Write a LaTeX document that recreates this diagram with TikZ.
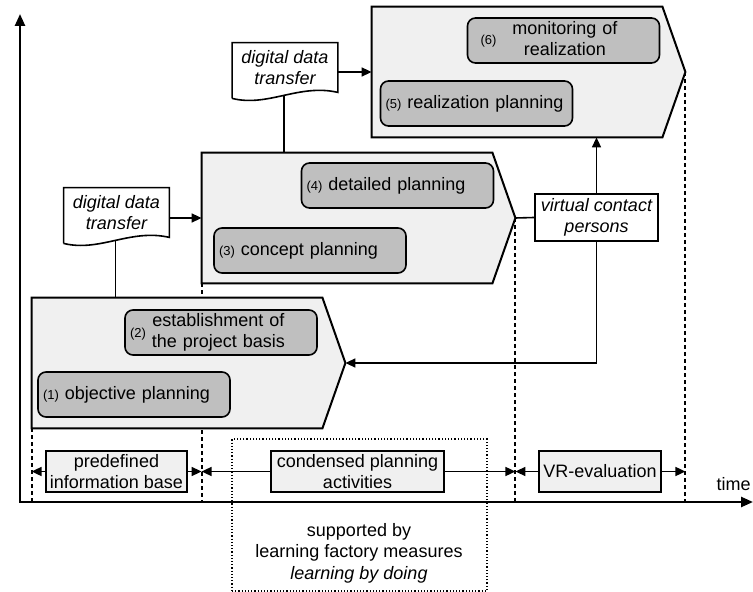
\documentclass[tikz,border=0pt]{standalone}
\usepackage{fontspec}
\setmainfont{Liberation Sans}
\usetikzlibrary{arrows.meta}
\newcommand{\nr}[1]{{\fontsize{6.5}{7}\selectfont(#1)}}
\begin{document}
\begin{tikzpicture}[x=0.5pt,y=-0.5pt,
  font=\fontsize{9}{10.75}\selectfont,
  phasebox/.style={minimum width=145pt,minimum height=65pt,inner sep=0pt},
  phaseline/.style={draw,fill=black!6,line width=1pt,line join=miter},
  taskbox/.style={draw,fill=black!25,rounded corners=4pt,line width=0.8pt,minimum width=96pt,minimum height=22.5pt,inner xsep=2.5pt,inner ysep=0pt,text width=91pt,align=left},
  docbox/.style={minimum width=52.5pt,minimum height=24.5pt,inner sep=0pt,align=center,font=\fontsize{9}{10.75}\selectfont\itshape},
  spanbox/.style={draw,fill=black!6,line width=0.7pt,inner sep=0pt,minimum height=20.5pt,align=center},
  flowarrow/.style={line width=0.8pt,-{Triangle[length=5pt,width=4.5pt]}},
  phasesep/.style={line width=1pt,dash pattern=on 2pt off 1.5pt},
  axisline/.style={line width=1.2pt,{Triangle[length=6pt,width=5pt]}-{Triangle[length=6pt,width=5pt]}}]
\useasboundingbox (0,0) rectangle (753,592);

\coordinate (o) at (20,502);
\coordinate (ytop) at (20,14);
\coordinate (xend) at (753,502);

\node[phasebox] (p1) at (177,363) {};
\node[phasebox] (p2) at (347,218) {};
\node[phasebox] (p3) at (517,72) {};
\coordinate (p1tip) at ([xshift=11.5pt]p1.east);
\coordinate (p2tip) at ([xshift=11.5pt]p2.east);
\coordinate (p3tip) at ([xshift=11.5pt]p3.east);

\path[draw,phasesep] (p1.south west) -- (p1.south west |- o);
\path[draw,phasesep] (p2.south west) -- (p2.south west |- o);
\path[draw,phasesep] (p2tip) -- (p2tip |- o);
\path[draw,phasesep] (p3tip) -- (p3tip |- o);

\foreach \p in {p1,p2,p3}
  \path[phaseline] (\p.north west) -- (\p.north east) -- ([xshift=11.5pt]\p.east) -- (\p.south east) -- (\p.south west) -- cycle;

\node[taskbox] (t1) at (134,394.5) {\nr{1} objective planning};
\node[taskbox] (t2) at (221,332.5) {\nr{2}\hspace{3pt}\begin{tabular}{@{}c@{}}establishment of\\the project basis\end{tabular}};
\node[taskbox] (t3) at (310,250.5) {\nr{3} concept planning};
\node[taskbox] (t4) at (397.5,185.5) {\nr{4} detailed planning};
\node[taskbox] (t5) at (476.5,103.5) {\nr{5} realization planning};
\node[taskbox] (t6) at (563.5,40.5) {\hspace{4pt}\nr{6}\hspace{8pt}\begin{tabular}{@{}c@{}}monitoring of\\realization\end{tabular}};

\node[docbox] (doc1) at (116.5,212.5) {digital data\\transfer};
\node[docbox] (doc2) at (285,67.5) {digital data\\transfer};
\foreach \d in {doc1,doc2}
  \path[draw,line width=0.8pt] (\d.south west) -- ++(0,-3pt) -- (\d.north west) -- (\d.north east) -- (\d.south east)
    .. controls ([xshift=-19.5pt,yshift=4.5pt]\d.south east) and ([xshift=18pt,yshift=-7.5pt]\d.south west) .. coordinate[pos=0.5] (\d b) ([yshift=-3pt]\d.south west);

\path[draw,line width=0.8pt] (doc1b) -- (doc1b |- p1.north);
\path[draw,line width=0.8pt] (doc2b) -- (doc2b |- p2.north);
\path[draw,flowarrow] (doc1.east |- p2.west) -- (p2.west);
\path[draw,flowarrow] (doc2.east |- p3.west) -- (p3.west);

\node[draw,fill=white,line width=0.8pt,minimum width=61.5pt,minimum height=23.5pt,inner sep=0pt,align=center,font=\fontsize{9}{10.75}\selectfont\itshape] (vcp) at (596.5,217.5) {virtual contact\\persons};
\path[draw,line width=0.8pt] (p2tip) -- (vcp.west);
\path[draw,flowarrow] (vcp.north) -- (vcp.north |- p3.south);
\path[draw,flowarrow] (vcp.south) |- (p1tip);

\node[draw,densely dotted,line width=0.6pt,minimum width=127.5pt,minimum height=76pt,inner sep=0pt] (lfm) at (359.5,515) {};
\node[align=center] (lfmtext) at (359,553) {supported by\\learning factory measures\\\textit{learning by doing}};

\node[spanbox,minimum width=70.5pt] (pib) at (116.5,471.5) {predefined\\information base};
\node[spanbox,minimum width=86.5pt] (cpa) at (357.5,471.5) {condensed planning\\activities};
\node[spanbox,minimum width=61pt] (vre) at (600,471.5) {VR-evaluation};

\path[draw,flowarrow] (pib.west) -- (pib.west -| p1.south west);
\path[draw,flowarrow] (pib.east) -- (pib.east -| p2.south west);
\path[draw,flowarrow] (cpa.west) -- (cpa.west -| p2.south west);
\path[draw,flowarrow] (cpa.east) -- (cpa.east -| p2tip);
\path[draw,flowarrow] (vre.west) -- (vre.west -| p2tip);
\path[draw,flowarrow] (vre.east) -- (vre.east -| p3tip);

\path[draw,axisline] (ytop) -- (o) -- (xend);
\node[anchor=east,inner sep=0pt] (tlabel) at (751,484) {time};
\end{tikzpicture}
\end{document}
